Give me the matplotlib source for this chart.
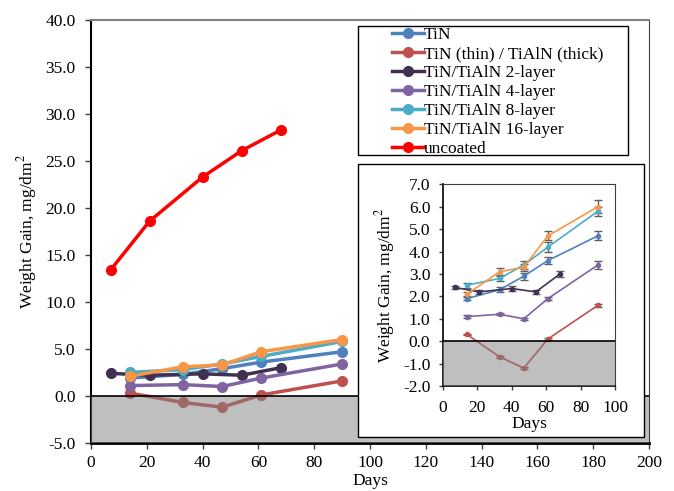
import numpy as np
import matplotlib
matplotlib.use("Agg")
import matplotlib.pyplot as plt
from matplotlib.patches import Rectangle
from matplotlib.ticker import FormatStrFormatter

plt.rcParams["font.family"] = ["Liberation Serif", "DejaVu Serif"]
plt.rcParams["font.size"] = 12.5
plt.rcParams["mathtext.fontset"] = "stix"

# Weight gain data (mg/dm^2) vs exposure days
days_5 = [14, 33, 47, 61, 90]
days_2layer = [7, 21, 40, 54, 68]
days_uncoated = [7, 21, 40, 54, 68]

tin = [1.9, 2.3, 2.9, 3.6, 4.7]
tin_err = [0.08, 0.1, 0.15, 0.15, 0.2]
thin_thick = [0.3, -0.7, -1.2, 0.1, 1.6]
thin_thick_err = [0.04, 0.04, 0.05, 0.04, 0.06]
layer2 = [2.4, 2.2, 2.35, 2.2, 3.0]
layer2_err = [0.08, 0.08, 0.1, 0.1, 0.13]
layer4 = [1.1, 1.2, 1.0, 1.9, 3.4]
layer4_err = [0.05, 0.05, 0.05, 0.07, 0.16]
layer8 = [2.5, 2.8, 3.4, 4.2, 5.8]
layer8_err = [0.11, 0.1, 0.17, 0.22, 0.2]
layer16 = [2.1, 3.1, 3.3, 4.7, 6.0]
layer16_err = [0.1, 0.15, 0.15, 0.2, 0.3]
uncoated = [13.4, 18.6, 23.3, 26.1, 28.3]

labels = ["TiN", "TiN (thin) / TiAlN (thick)", "TiN/TiAlN 2-layer",
          "TiN/TiAlN 4-layer", "TiN/TiAlN 8-layer", "TiN/TiAlN 16-layer",
          "uncoated"]
colors = ["#4F81BD", "#C0504D", "#403152", "#8064A2", "#4BACC6", "#F79646",
          "#FF0000"]

series = [
    (days_5, tin, tin_err),
    (days_5, thin_thick, thin_thick_err),
    (days_2layer, layer2, layer2_err),
    (days_5, layer4, layer4_err),
    (days_5, layer8, layer8_err),
    (days_5, layer16, layer16_err),
    (days_uncoated, uncoated, None),
]

fig = plt.figure(figsize=(6.74, 4.91), dpi=100)
ax = fig.add_axes([0.135, 0.098, 0.828, 0.861])

handles = []
for (x, y, e), lab, c in zip(series, labels, colors):
    h, = ax.plot(x, y, "-o", color=c, lw=2.5, ms=7, label=lab, zorder=3)
    handles.append(h)

# weight-loss region shaded
ax.add_patch(Rectangle((0, -5), 200, 5, facecolor="#808080", alpha=0.5,
                       edgecolor="none", zorder=4))
ax.axhline(0, color="black", lw=1.2, zorder=5)

ax.set_xlim(0, 200)
ax.set_ylim(-5, 40)
ax.set_xticks(np.arange(0, 201, 20))
ax.set_yticks(np.arange(-5, 40.1, 5))
ax.yaxis.set_major_formatter(FormatStrFormatter("%.1f"))
ax.set_xlabel("Days", labelpad=1)
ax.set_ylabel("Weight Gain, mg/dm$^2$", labelpad=5)
ax.tick_params(direction="out", length=4, width=1, color="#404040")
ax.tick_params(axis="x", pad=5)
ax.tick_params(axis="y", pad=7)
ax.spines["left"].set_linewidth(1.5)
ax.spines["bottom"].set_linewidth(2)
ax.spines["top"].set_color("#808080")
ax.spines["top"].set_linewidth(1.5)
ax.spines["right"].set_color("#404040")

# legend box drawn separately, entries indented like the original
fig.patches.append(Rectangle((358 / 674, 1 - 155 / 491), 270 / 674, 129 / 491,
                             transform=fig.transFigure, facecolor="white",
                             edgecolor="black", lw=1.0, zorder=9))
leg = fig.legend(handles, labels, loc="upper left",
                 bbox_to_anchor=(392 / 674, 1 - 27 / 491), frameon=False,
                 handlelength=1.85, handletextpad=0.0, labelspacing=0.16,
                 borderpad=0, borderaxespad=0)
leg.set_zorder(10)

# inset frame
fig.patches.append(Rectangle((0.531, 0.110), 0.424, 0.556,
                             transform=fig.transFigure, facecolor="white",
                             edgecolor="black", lw=1.0, zorder=6))

ins = fig.add_axes([0.657, 0.2138, 0.2556, 0.4108], zorder=7)
for (x, y, e), lab, c in zip(series[:-1], labels[:-1], colors[:-1]):
    ins.errorbar(x, y, yerr=e, fmt="-o", color=c, lw=1.2, ms=3,
                 ecolor="#606060", elinewidth=1, capsize=3, capthick=1,
                 zorder=3)
ins.add_patch(Rectangle((0, -2), 100, 2, facecolor="#808080", alpha=0.5,
                        edgecolor="none", zorder=4))
ins.axhline(0, color="black", lw=1.2, zorder=5)
ins.set_xlim(0, 100)
ins.set_ylim(-2, 7)
ins.set_xticks(np.arange(0, 101, 20))
ins.set_yticks(np.arange(-2, 7.1, 1))
ins.yaxis.set_major_formatter(FormatStrFormatter("%.1f"))
ins.set_xlabel("Days", labelpad=0)
ins.set_ylabel("Weight Gain, mg/dm$^2$", labelpad=4)
ins.tick_params(direction="out", length=3, width=1, color="#404040")
ins.tick_params(axis="x", pad=7)
ins.tick_params(axis="y", pad=6)
ins.spines["left"].set_linewidth(1.2)
ins.spines["bottom"].set_linewidth(1.2)
ins.spines["top"].set_color("#404040")
ins.spines["right"].set_color("#404040")

fig.savefig("out.png", dpi=100)
